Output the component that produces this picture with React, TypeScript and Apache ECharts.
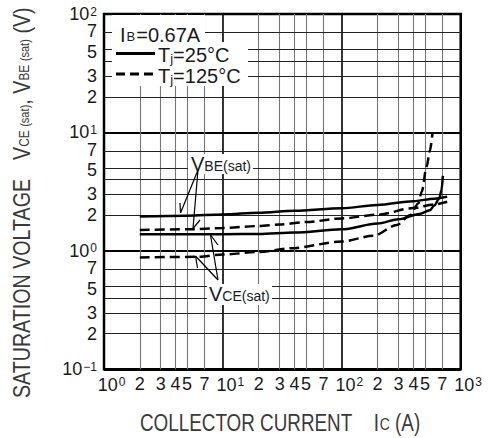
import React, { useEffect, useRef } from "react";
import * as echarts from "echarts";

const FONT = "'Liberation Sans', Arial, sans-serif";
const TXT = "#1a1a1a";
const TITLE = "#3a3a3a";

// ---- tick data ----
const xMinorTicks = [2, 3, 4, 5, 7, 20, 30, 40, 50, 70, 200, 300, 400, 500, 700];
const yMinorTicks = [0.2, 0.3, 0.4, 0.5, 0.7, 2, 3, 4, 5, 7, 20, 30, 40, 50, 70];
const yUnlabeledTicks = [0.4, 4, 40];

// ---- series data (Ic in A, V in volts) ----
const icVbe25 = [2, 5, 10, 20, 40, 100, 200, 400, 600, 770];
const vbe25 = [1.95, 1.98, 2.03, 2.1, 2.18, 2.29, 2.44, 2.63, 2.76, 2.87];

const icVbe125 = [2, 5, 10, 20, 30, 50, 100, 200, 400, 600, 770];
const vbe125 = [1.5, 1.52, 1.56, 1.62, 1.67, 1.75, 1.88, 2.02, 2.3, 2.47, 2.6];

const icVce25 = [2, 5, 10, 20, 40, 100, 200, 300, 450, 550, 600, 660, 690, 708];
const vce25 = [1.38, 1.38, 1.38, 1.39, 1.43, 1.52, 1.7, 1.85, 2.05, 2.2, 2.42, 2.77, 3.27, 4.3];

const icVce125 = [2, 6, 10, 20, 37, 100, 184, 290, 375, 441, 470, 517, 550, 580];
const vce125 = [0.88, 0.89, 0.93, 0.98, 1.05, 1.2, 1.34, 1.65, 2.0, 2.52, 3.16, 5.13, 7.0, 10];

const zip = (xs: number[], ys: number[]) => xs.map((x, i) => [x, ys[i]]);
const lead = (v: number) => String(Math.round(v / Math.pow(10, Math.floor(Math.log10(v) + 1e-9))));
const supText = (v: number) => {
  const e = Math.round(Math.log10(v));
  return `{b|10}{s|${e < 0 ? "\u2212" + -e : e}}`;
};

const TICK = 18;
const labelRich = {
  b: { fontSize: TICK, fontFamily: FONT, color: TXT, lineHeight: 17 },
  s: { fontSize: 12, fontFamily: FONT, color: TXT, verticalAlign: "top", lineHeight: 12, padding: [0, 0, 0, 1] },
};

const curve = (name: string, data: number[][], dashed: boolean) => ({
  name,
  type: "line",
  data,
  showSymbol: false,
  symbol: "none",
  smooth: 0.3,
  smoothMonotone: "x",
  z: 3,
  lineStyle: { color: "#000", width: 2.5, type: dashed ? [10, 5] : "solid" },
});

const gR = (size: number, extra: any = {}) => ({ fontSize: size, fontFamily: FONT, fill: TXT, ...extra });

export default function App() {
  const ref = useRef<HTMLDivElement>(null);
  useEffect(() => {
    const chart = echarts.init(ref.current!, null, { renderer: "svg" });
    const yOffset = (v: number) => {
      const d = lead(v);
      return d === "7" ? [0, -1] : d === "5" ? [0, 2] : [0, 0];
    };
    const markData: any[] = [
      ...xMinorTicks.map((v) => ({
        xAxis: v,
        lineStyle: { color: "#777", width: 1.1, type: "solid" },
        label: { show: true, position: "start", formatter: lead(v), distance: 7 },
      })),
      ...yMinorTicks.map((v) => ({
        yAxis: v,
        lineStyle: { color: "#222", width: 1.1, type: "solid" },
        label: {
          show: !yUnlabeledTicks.includes(v),
          position: "start",
          formatter: lead(v),
          distance: 7,
          offset: yOffset(v),
        },
      })),
    ];
    const option: any = {
      animation: false,
      backgroundColor: "#fff",
      grid: {
        left: 104,
        top: 14,
        right: 28.3,
        bottom: 68.7,
        show: true,
        borderColor: "#000",
        borderWidth: 2.5,
        backgroundColor: "transparent",
      },
      xAxis: {
        type: "log",
        logBase: 10,
        min: 1,
        max: 1000,
        axisLine: { show: false },
        axisTick: { show: false },
        splitLine: { show: true, lineStyle: { color: "#000", width: 1.6 } },
        axisLabel: {
          showMinLabel: true,
          showMaxLabel: true,
          margin: 7,
          padding: [0, 0, 0, 15],
          formatter: (v: number) => supText(v),
          rich: labelRich,
        },
      },
      yAxis: {
        type: "log",
        logBase: 10,
        min: 0.1,
        max: 100,
        axisLine: { show: false },
        axisTick: { show: false },
        splitLine: { show: true, lineStyle: { color: "#000", width: 1.8 } },
        axisLabel: {
          showMinLabel: true,
          showMaxLabel: true,
          margin: 7,
          formatter: (v: number) => supText(v),
          rich: labelRich,
        },
      },
      series: [
        {
          name: "grid",
          type: "line",
          data: [[1, 0.1]],
          symbol: "none",
          lineStyle: { width: 0 },
          z: 1,
          silent: true,
          markLine: {
            silent: true,
            symbol: "none",
            z: 1,
            animation: false,
            label: { color: TXT, fontSize: TICK, fontFamily: FONT, lineHeight: 16 },
            data: markData,
          },
        },
        curve("VBE(sat) Tj=25°C", zip(icVbe25, vbe25), false),
        curve("VBE(sat) Tj=125°C", zip(icVbe125, vbe125), true),
        curve("VCE(sat) Tj=25°C", zip(icVce25, vce25), false),
        curve("VCE(sat) Tj=125°C", zip(icVce125, vce125), true),
      ],
      graphic: [
        // legend backgrounds
        { type: "rect", z: 10, shape: { x: 112, y: 15, width: 93, height: 28 }, style: { fill: "#fff" } },
        { type: "rect", z: 10, shape: { x: 112, y: 42, width: 136, height: 44 }, style: { fill: "#fff" } },
        {
          type: "text", z: 11, x: 120, y: 35,
          style: {
            text: "{a|I}{b|B}{a|=0.67A}", verticalAlign: "middle", ...gR(20),
            rich: { a: gR(20), b: gR(13, { verticalAlign: "bottom", padding: [0, 1, 2, 1] }) },
          },
        },
        { type: "line", z: 11, shape: { x1: 116, y1: 53.5, x2: 155, y2: 53.5 }, style: { stroke: "#000", lineWidth: 3 } },
        {
          type: "text", z: 11, x: 158, y: 55,
          style: {
            text: "{a|T}{b|j}{a|=25°C}", verticalAlign: "middle", ...gR(20),
            rich: { a: gR(20), b: gR(13, { verticalAlign: "bottom" }) },
          },
        },
        { type: "line", z: 11, shape: { x1: 116, y1: 74, x2: 155, y2: 74 }, style: { stroke: "#000", lineWidth: 3, lineDash: [9, 5] } },
        {
          type: "text", z: 11, x: 158, y: 76,
          style: {
            text: "{a|T}{b|j}{a|=125°C}", verticalAlign: "middle", ...gR(20),
            rich: { a: gR(20), b: gR(13, { verticalAlign: "bottom" }) },
          },
        },
        // annotation labels
        { type: "rect", z: 10, shape: { x: 188, y: 154, width: 65, height: 20 }, style: { fill: "#fff" } },
        {
          type: "text", z: 11, x: 191, y: 164,
          style: {
            text: "{a|V}{b|BE(sat)}", verticalAlign: "middle", ...gR(20),
            rich: { a: gR(20), b: gR(14, { verticalAlign: "bottom", padding: [0, 0, 1, 0] }) },
          },
        },
        { type: "rect", z: 10, shape: { x: 207, y: 284, width: 65, height: 21 }, style: { fill: "#fff" } },
        {
          type: "text", z: 11, x: 209, y: 294,
          style: {
            text: "{a|V}{b|CE(sat)}", verticalAlign: "middle", ...gR(20),
            rich: { a: gR(20), b: gR(14, { verticalAlign: "bottom", padding: [0, 0, 1, 0] }) },
          },
        },
        // leader lines
        { type: "line", z: 11, shape: { x1: 198, y1: 170, x2: 180.5, y2: 213 }, style: { stroke: "#000", lineWidth: 1.2 } },
        { type: "line", z: 11, shape: { x1: 180.5, y1: 213, x2: 180, y2: 203 }, style: { stroke: "#000", lineWidth: 1.2 } },
        { type: "line", z: 11, shape: { x1: 198, y1: 170, x2: 193, y2: 228.5 }, style: { stroke: "#000", lineWidth: 1.2 } },
        { type: "line", z: 11, shape: { x1: 193, y1: 228.5, x2: 200, y2: 220 }, style: { stroke: "#000", lineWidth: 1.2 } },
        { type: "line", z: 11, shape: { x1: 218, y1: 280, x2: 210.5, y2: 235 }, style: { stroke: "#000", lineWidth: 1.2 } },
        { type: "line", z: 11, shape: { x1: 210.5, y1: 235, x2: 218, y2: 245 }, style: { stroke: "#000", lineWidth: 1.2 } },
        { type: "line", z: 11, shape: { x1: 218, y1: 280, x2: 195.5, y2: 256 }, style: { stroke: "#000", lineWidth: 1.2 } },
        { type: "line", z: 11, shape: { x1: 195.5, y1: 256, x2: 197.5, y2: 268 }, style: { stroke: "#000", lineWidth: 1.2 } },
        // axis titles (narrowed horizontally to mimic a condensed face)
        {
          type: "text", z: 11, x: 140, y: 423, scaleX: 0.82,
          style: {
            text: "{a|COLLECTOR CURRENT}{g| }{a|I}{b|C}{a| (A)}", verticalAlign: "middle", ...gR(23, { fill: TITLE }),
            rich: {
              a: gR(23, { fill: TITLE }),
              g: gR(23, { fill: TITLE, width: 26 }),
              b: gR(17, { fill: TITLE, verticalAlign: "bottom", padding: [0, 0, 2, 1] }),
            },
          },
        },
        {
          type: "text", z: 11, x: 22, y: 398, rotation: Math.PI / 2, scaleX: 0.855,
          style: {
            text: "{a|SATURATION VOLTAGE}{g| }{a|V}{b|CE }{c|(sat)}{a|, V}{b|BE }{c|(sat)}{a| (V)}",
            verticalAlign: "middle", textAlign: "left", ...gR(23, { fill: TITLE }),
            rich: {
              a: gR(23, { fill: TITLE }),
              g: gR(23, { fill: TITLE, width: 22 }),
              b: gR(14, { fill: TITLE, verticalAlign: "bottom", padding: [0, 0, 2, 0] }),
              c: gR(13, { fill: TITLE, verticalAlign: "bottom", padding: [0, 0, 2, 0] }),
            },
          },
        },
      ],
    };
    chart.setOption(option);
    return () => chart.dispose();
  }, []);
  return (
    <div
      ref={ref}
      style={{ position: "fixed", left: 0, top: 0, width: 489, height: 438, background: "#fff" }}
    />
  );
}
